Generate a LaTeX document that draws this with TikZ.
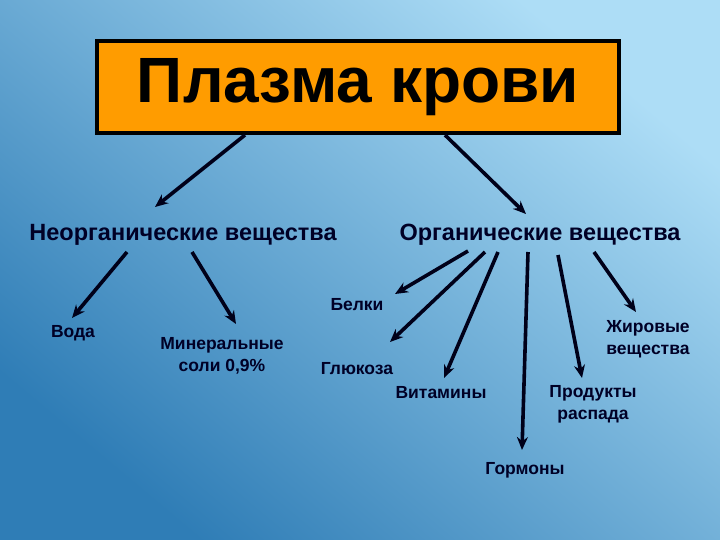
\documentclass[tikz,border=0pt]{standalone}
\usepackage{fontspec}
\setmainfont{Liberation Sans}
\usetikzlibrary{arrows.meta}
\begin{document}
\begin{tikzpicture}[x=1pt,y=-1pt,
  arr/.style={line width=3.6pt,draw=black!90!blue,-{Stealth[length=13pt,width=11pt]}},
  lab/.style={font=\bfseries\fontsize{17.5}{22}\selectfont,text=black!85!blue,align=center,inner sep=1pt},
  big/.style={font=\bfseries\fontsize{23.5}{27}\selectfont,text=black!85!blue,inner sep=1pt}]
\definecolor{bgA}{HTML}{ADDDF6}
\definecolor{bgB}{HTML}{2F7DB6}
\definecolor{org}{HTML}{FF9C00}
\shade[shading=axis,top color=bgA,bottom color=bgB,shading angle=-40] (0,0) rectangle (720,540);
\useasboundingbox (0,0) rectangle (720,540);
\node[draw=black,line width=4pt,fill=org,minimum width=522pt,minimum height=92pt,
  font=\bfseries\fontsize{64}{70}\selectfont] (root) at (358,87) {Плазма крови};
\node[big] (neo) at (183,235) {Неорганические вещества};
\node[big] (org) at (540,235) {Органические вещества};
\node[lab] (voda) at (73,333) {Вода};
\node[lab] (min) at (222,356) {Минеральные\\соли 0,9\%};
\node[lab] (bel) at (357,305) {Белки};
\node[lab] (glu) at (357,369) {Глюкоза};
\node[lab] (vit) at (441,393) {Витамины};
\node[lab] (gor) at (525,470) {Гормоны};
\node[lab] (prod) at (593,404) {Продукты\\распада};
\node[lab] (zhir) at (648,339) {Жировые\\вещества};
\coordinate (r1) at (245,135); \coordinate (r2) at (445,135);
\coordinate (n1) at (127,252); \coordinate (n2) at (192,252);
\coordinate (o1) at (468,251); \coordinate (o2) at (485,252); \coordinate (o3) at (498,252);
\coordinate (o4) at (528,252); \coordinate (o5) at (558,255); \coordinate (o6) at (594,252);
\draw[arr] (r1) -- (155,207) coordinate (t1);
\draw[arr] (r2) -- (526,214) coordinate (t2);
\draw[arr] (n1) -- (72,318);
\draw[arr] (n2) -- (236,324);
\draw[arr] (o1) -- (395,294);
\draw[arr] (o2) -- (390,342);
\draw[arr] (o3) -- (444,378);
\draw[arr] (o4) -- (522,450);
\draw[arr] (o5) -- (582,378);
\draw[arr] (o6) -- (636,312);
\end{tikzpicture}
\end{document}
